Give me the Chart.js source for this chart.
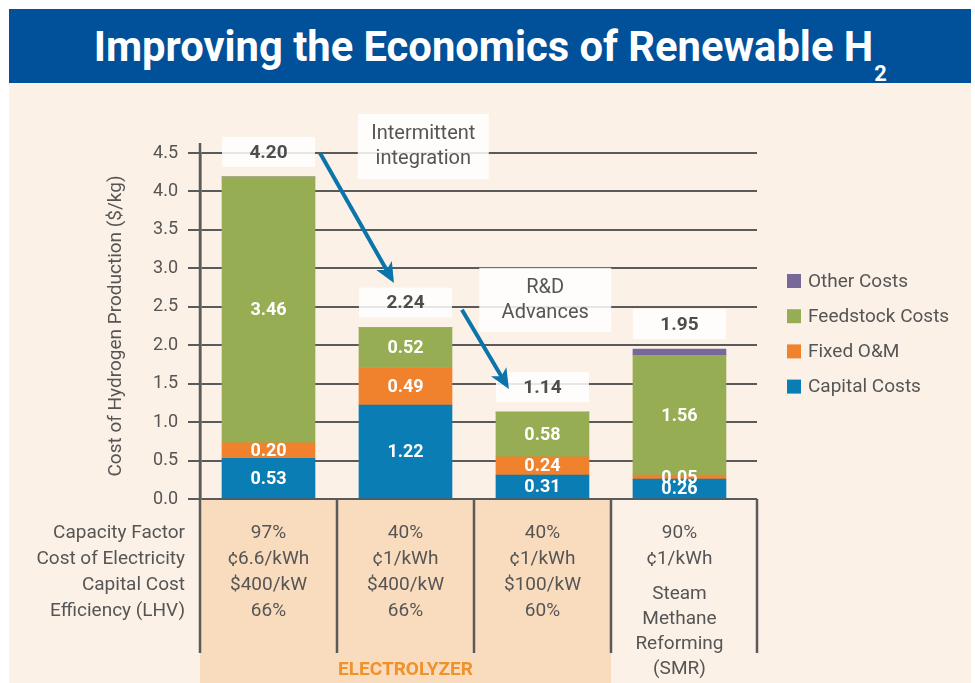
<!DOCTYPE html>
<html>
<head>
<meta charset="utf-8">
<title>Improving the Economics of Renewable H2</title>
<script src="https://cdn.jsdelivr.net/npm/chart.js@4.4.1/dist/chart.umd.min.js"></script>
<style>
  html, body { margin: 0; padding: 0; background: #ffffff; overflow: hidden; }
  #band { position: absolute; left: 9px; top: 9px; width: 962px; height: 74px; background: #00509a; overflow: hidden; }
  #panel { position: absolute; left: 9px; top: 83px; width: 962px; height: 600px; background: #fcf1e7; }
  #title { position: absolute; left: 0; top: 17px; width: 962px; text-align: center; color: #fff;
           font: 700 42px Roboto, sans-serif; line-height: 42px; white-space: nowrap; }
  #title .inner { display: inline-block; transform-origin: center; }
  #title sub { font-size: 22px; position: relative; top: 20px; vertical-align: baseline; margin-left: 1px; }
  #wrap { position: absolute; left: 0; top: 0; width: 975px; height: 683px; }
</style>
</head>
<body>
<div id="band"><div id="title"><span class="inner">Improving the Economics of Renewable H<sub>2</sub></span></div></div>
<div id="panel"></div>
<div id="wrap"><canvas id="chart"></canvas></div>
<script>
// Valores ($/kg). Ordem das pilhas: de baixo para cima.
const categories = ["Electrolyzer 97%", "Electrolyzer 40%", "Electrolyzer R&D", "SMR"];
const capitalCosts = [0.53, 1.22, 0.31, 0.26];
const fixedOM = [0.20, 0.49, 0.24, 0.05];
const feedstockCosts = [3.46, 0.52, 0.58, 1.56];
const otherCosts = [0, 0, 0, 0.08];
const totalLabels = ["4.20", "2.24", "1.14", "1.95"];

// Tabela abaixo do eixo
const rowLabels = ["Capacity Factor", "Cost of Electricity", "Capital Cost", "Efficiency (LHV)"];
const capacityFactor = ["97%", "40%", "40%", "90%"];
const electricityCost = ["¢6.6/kWh", "¢1/kWh", "¢1/kWh", "¢1/kWh"];
const capitalCost = ["$400/kW", "$400/kW", "$100/kW", ""];
const efficiency = ["66%", "66%", "60%", ""];
const smrNote = ["Steam", "Methane", "Reforming", "(SMR)"];
const groupLabel = "ELECTROLYZER";

// Caixas de anotação e setas, em unidades dos eixos (x = índice da coluna, y = $/kg)
const notes = [
  { lines: ["Intermittent", "integration"], x: 1.13, y: 4.585, w: 131, h: 65 },
  { lines: ["R&D", "Advances"], x: 2.02, y: 2.59, w: 132, h: 64 },
];
const arrows = [
  { from: [0.376, 4.5], to: [0.916, 2.81] },
  { from: [1.412, 2.46], to: [1.755, 1.43] },
];

const FONT = "Roboto, sans-serif";
const INK = "#555555";
const GRID = "#5a5a5a";
const COLORS = { capital: "#0a7db4", om: "#f0812d", feed: "#97ad53", other: "#77679a" };
const PEACH = "#f9dcbe";
const ARROW = "#0a74ab";

const pts = (arr) => arr.map((v, i) => ({ x: i, y: v }));

function line(ctx, x1, y1, x2, y2) {
  ctx.beginPath(); ctx.moveTo(x1, y1); ctx.lineTo(x2, y2); ctx.stroke();
}

const decorations = {
  id: "decorations",
  beforeDraw(chart) {
    const { ctx, chartArea, scales: { x } } = chart;
    ctx.save();
    ctx.fillStyle = PEACH;
    const l = x.getPixelForValue(-0.5), r = x.getPixelForValue(2.5);
    ctx.fillRect(l, chartArea.bottom, r - l, chart.height - chartArea.bottom);
    ctx.restore();
  },
  afterDraw(chart) {
    const { ctx, chartArea, scales: { x, y } } = chart;
    ctx.save();

    // divisórias da tabela
    ctx.strokeStyle = GRID; ctx.lineWidth = 2.5;
    [-0.5, 0.5, 1.5, 2.5].forEach((v) => {
      const px = Math.round(x.getPixelForValue(v));
      line(ctx, px, v === -0.5 ? chartArea.top - 10 : chartArea.bottom, px, 653);
    });
    line(ctx, chartArea.right, chartArea.bottom, chartArea.right, 653);

    // textos da tabela
    ctx.fillStyle = INK; ctx.font = `19px ${FONT}`; ctx.textBaseline = "middle";
    ctx.textAlign = "right";
    rowLabels.forEach((t, i) => ctx.fillText(t, 185, 533 + 26 * i));
    ctx.textAlign = "center";
    [capacityFactor, electricityCost, capitalCost, efficiency].forEach((row, r) => {
      row.forEach((t, i) => { if (t) ctx.fillText(t, x.getPixelForValue(i), 533 + 26 * r); });
    });
    smrNote.forEach((t, i) => ctx.fillText(t, x.getPixelForValue(3), 594 + 25 * i));
    ctx.fillStyle = "#f0922b"; ctx.font = `bold 19px ${FONT}`;
    ctx.fillText(groupLabel, x.getPixelForValue(1), 670);

    // rótulos dentro das barras
    ctx.fillStyle = "#ffffff"; ctx.font = `bold 18px ${FONT}`;
    chart.data.datasets.forEach((ds, di) => {
      if (ds.label === "Other Costs") return;
      chart.getDatasetMeta(di).data.forEach((el, i) => {
        const v = ds.data[i].y;
        if (!v) return;
        ctx.fillText(v.toFixed(2), el.x, (el.y + el.base) / 2 + 1);
      });
    });

    // totais
    ctx.font = `bold 19px ${FONT}`;
    totalLabels.forEach((t, i) => {
      const cx = x.getPixelForValue(i);
      const totalY = y.getPixelForValue(capitalCosts[i] + fixedOM[i] + feedstockCosts[i] + otherCosts[i]);
      ctx.fillStyle = "rgba(255,255,255,0.85)";
      ctx.fillRect(cx - 46.5, totalY - 40, 93, 30);
      ctx.fillStyle = "#4d4d4d";
      ctx.fillText(t, cx, totalY - 24);
    });

    // anotações
    ctx.font = `20px ${FONT}`;
    notes.forEach((n) => {
      const cx = x.getPixelForValue(n.x), cy = y.getPixelForValue(n.y);
      ctx.fillStyle = "rgba(255,255,255,0.85)";
      ctx.fillRect(cx - n.w / 2, cy - n.h / 2, n.w, n.h);
      ctx.fillStyle = INK;
      ctx.fillText(n.lines[0], cx, cy - 12);
      ctx.fillText(n.lines[1], cx, cy + 13);
    });

    // setas
    ctx.strokeStyle = ARROW; ctx.fillStyle = ARROW; ctx.lineWidth = 4;
    arrows.forEach((a) => {
      const x1 = x.getPixelForValue(a.from[0]), y1 = y.getPixelForValue(a.from[1]);
      const x2 = x.getPixelForValue(a.to[0]), y2 = y.getPixelForValue(a.to[1]);
      const ang = Math.atan2(y2 - y1, x2 - x1);
      const len = 22, spread = 0.42;
      const bx = x2 - 14 * Math.cos(ang), by = y2 - 14 * Math.sin(ang);
      line(ctx, x1, y1, bx, by);
      ctx.beginPath();
      ctx.moveTo(x2, y2);
      ctx.lineTo(x2 - len * Math.cos(ang - spread), y2 - len * Math.sin(ang - spread));
      ctx.lineTo(x2 - 15 * Math.cos(ang), y2 - 15 * Math.sin(ang));
      ctx.lineTo(x2 - len * Math.cos(ang + spread), y2 - len * Math.sin(ang + spread));
      ctx.closePath();
      ctx.fill();
    });

    // legenda (ordem inversa das pilhas)
    ctx.textAlign = "left"; ctx.font = `19px ${FONT}`;
    chart.data.datasets.slice().reverse().forEach((ds, i) => {
      const cy = 281 + 35.2 * i;
      ctx.fillStyle = ds.backgroundColor;
      ctx.fillRect(787, cy - 7, 14, 14);
      ctx.fillStyle = INK;
      ctx.fillText(ds.label, 808, cy + 1);
    });

    ctx.restore();
  },
};

const bar = (label, data, color) => ({ label, data: pts(data), backgroundColor: color, barThickness: 93, borderWidth: 0 });

new Chart(document.getElementById("chart"), {
  type: "bar",
  data: {
    datasets: [
      bar("Capital Costs", capitalCosts, COLORS.capital),
      bar("Fixed O&M", fixedOM, COLORS.om),
      bar("Feedstock Costs", feedstockCosts, COLORS.feed),
      bar("Other Costs", otherCosts, COLORS.other),
    ],
  },
  options: {
    responsive: true,
    maintainAspectRatio: false,
    animation: false,
    layout: { padding: { left: 103, right: 218, top: 153, bottom: 184 } },
    plugins: { legend: { display: false }, tooltip: { enabled: false } },
    scales: {
      x: { type: "linear", stacked: true, offset: false, min: -0.5, max: 3.566, display: false },
      y: {
        stacked: true, min: 0, max: 4.5,
        ticks: { stepSize: 0.5, callback: (v) => v.toFixed(1), color: INK, font: { family: FONT, size: 18 }, padding: 10 },
        grid: { color: GRID, lineWidth: 2, tickLength: 12, tickColor: GRID },
        border: { color: GRID, width: 2.5 },
        title: { display: true, text: "Cost of Hydrogen Production ($/kg)", color: INK, font: { family: FONT, size: 19 }, padding: 2 },
        afterFit(s) { s.width = 97; },
      },
    },
  },
  plugins: [decorations],
});

document.fonts.ready.then(() => {
  const inner = document.querySelector("#title .inner");
  const w = inner.getBoundingClientRect().width;
  inner.style.transform = `scaleX(${793 / w})`;
});
</script>
</body>
</html>
